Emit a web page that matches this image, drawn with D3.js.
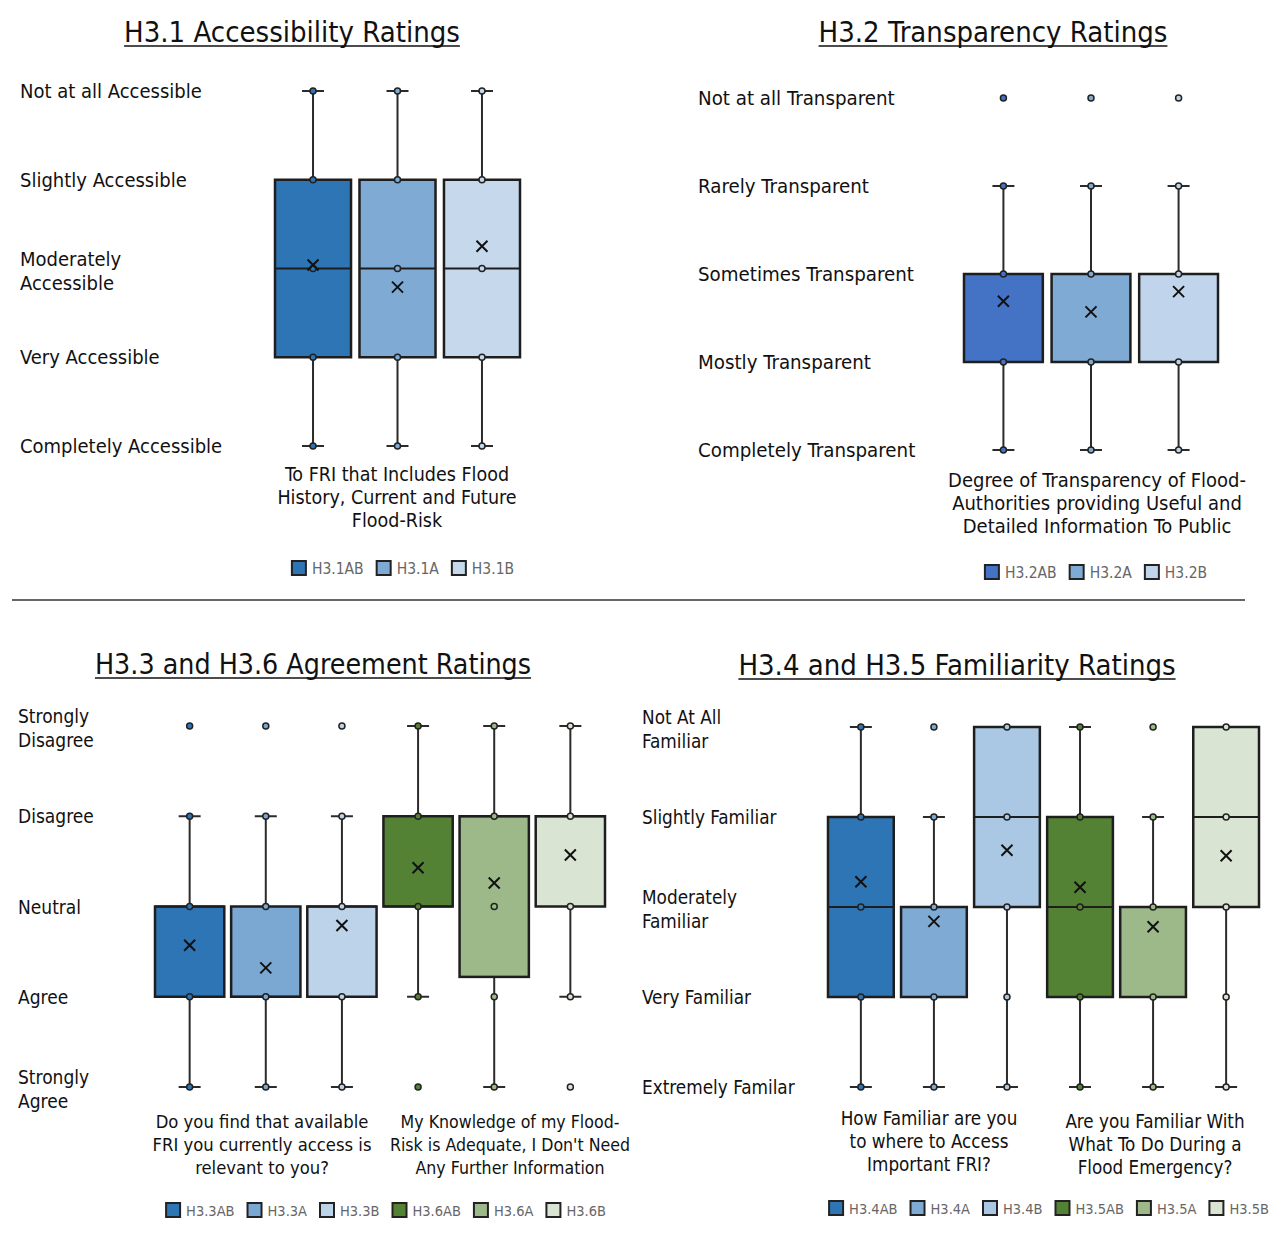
<!DOCTYPE html>
<html>
<head>
<meta charset="utf-8">
<script src="https://cdn.jsdelivr.net/npm/d3@7"></script>
<style>
  body { margin: 0; background: #fff; }
  svg text { font-family: "DejaVu Sans Condensed", "DejaVu Sans", sans-serif; }
</style>
</head>
<body>
<svg id="chart" width="1286" height="1233"></svg>
<script>
// rating levels are 1..5, 1 = top label

// H3.1
const h31Levels = ["Not at all Accessible", "Slightly Accessible", "Moderately|Accessible", "Very Accessible", "Completely Accessible"];
const h31Series = ["H3.1AB", "H3.1A", "H3.1B"];
const h31Min = [1, 1, 1];
const h31Q1 = [2, 2, 2];
const h31Median = [3, 3, 3];
const h31Q3 = [4, 4, 4];
const h31Max = [5, 5, 5];
const h31Mean = [2.96, 3.21, 2.75];
const h31Points = [[1, 2, 3, 4, 5], [1, 2, 3, 4, 5], [1, 2, 3, 4, 5]];
const h31XLabel = ["To FRI that Includes Flood", "History, Current and Future", "Flood-Risk"];

// H3.2
const h32Levels = ["Not at all Transparent", "Rarely Transparent", "Sometimes Transparent", "Mostly Transparent", "Completely Transparent"];
const h32Series = ["H3.2AB", "H3.2A", "H3.2B"];
const h32Min = [2, 2, 2];
const h32Q1 = [3, 3, 3];
const h32Median = [3, 3, 3];
const h32Q3 = [4, 4, 4];
const h32Max = [5, 5, 5];
const h32Mean = [3.31, 3.43, 3.2];
const h32Points = [[1, 2, 3, 4, 5], [1, 2, 3, 4, 5], [1, 2, 3, 4, 5]];
const h32XLabel = ["Degree of Transparency of Flood-", "Authorities providing Useful and", "Detailed Information To Public"];

// H3.3 + H3.6
const h33Levels = ["Strongly|Disagree", "Disagree", "Neutral", "Agree", "Strongly|Agree"];
const h33Series = ["H3.3AB", "H3.3A", "H3.3B", "H3.6AB", "H3.6A", "H3.6B"];
const h33Min = [2, 2, 2, 1, 1, 1];
const h33Q1 = [3, 3, 3, 2, 2, 2];
const h33Median = [3, 4, 3, 3, 2, 2];
const h33Q3 = [4, 4, 4, 3, 3.78, 3];
const h33Max = [5, 5, 5, 4, 5, 4];
const h33Mean = [3.43, 3.68, 3.21, 2.57, 2.74, 2.43];
const h33Points = [[1, 2, 3, 4, 5], [1, 2, 3, 4, 5], [1, 2, 3, 4, 5], [1, 2, 3, 4, 5], [1, 2, 3, 4, 5], [1, 2, 3, 4, 5]];
const h33XLabelA = ["Do you find that available", "FRI you currently access is", "relevant to you?"];
const h33XLabelB = ["My Knowledge of my Flood-", "Risk is Adequate, I Don't Need", "Any Further Information"];

// H3.4 + H3.5
const h34Levels = ["Not At All|Familiar", "Slightly Familiar", "Moderately|Familiar", "Very Familiar", "Extremely Familar"];
const h34Series = ["H3.4AB", "H3.4A", "H3.4B", "H3.5AB", "H3.5A", "H3.5B"];
const h34Min = [1, 2, 1, 1, 2, 1];
const h34Q1 = [2, 3, 1, 2, 3, 1];
const h34Median = [3, 3, 2, 3, 3, 2];
const h34Q3 = [4, 4, 3, 4, 4, 3];
const h34Max = [5, 5, 5, 5, 5, 5];
const h34Mean = [2.72, 3.16, 2.37, 2.78, 3.22, 2.43];
const h34Points = [[1, 2, 3, 4, 5], [1, 2, 3, 4, 5], [1, 2, 3, 4, 5], [1, 2, 3, 4, 5], [1, 2, 3, 4, 5], [1, 2, 3, 4, 5]];
const h34XLabelA = ["How Familiar are you", "to where to Access", "Important FRI?"];
const h34XLabelB = ["Are you Familiar With", "What To Do During a", "Flood Emergency?"];

const blues = ["#2e75b6", "#7faad4", "#c5d8ec"];
const blues2 = ["#4472c4", "#7faad4", "#c0d5ec"];
const mixed3 = ["#2e75b6", "#7ba7d3", "#bdd3ea", "#548235", "#9db98a", "#d9e4d2"];
const mixed4 = ["#2e75b6", "#7faad4", "#aac8e4", "#548235", "#9db98a", "#d9e4d2"];

const svg = d3.select("#chart");

function makeRows(series, mn, q1, med, q3, mx, mean, pts) {
  return series.map((s, i) => ({
    name: s, min: mn[i], q1: q1[i], median: med[i], q3: q3[i], max: mx[i], mean: mean[i], points: pts[i]
  }));
}

function drawPanel(p) {
  const g = svg.append("g");
  const y = d3.scaleLinear().domain([1, 5]).range([p.top, p.bottom]);
  const x = d3.scaleBand().domain(p.rows.map(d => d.name)).range([p.left, p.right]).paddingInner(p.pad);
  const color = d3.scaleOrdinal().domain(p.rows.map(d => d.name)).range(p.colors);
  const bw = x.bandwidth();

  // title, underlined
  const t = g.append("text")
    .attr("x", p.titleX).attr("y", p.titleY)
    .attr("text-anchor", "middle")
    .attr("font-size", p.titleSize).attr("fill", "#111")
    .text(p.title);
  const tw = t.node().getComputedTextLength();
  g.append("line")
    .attr("x1", p.titleX - tw / 2).attr("x2", p.titleX + tw / 2)
    .attr("y1", p.titleY + 4).attr("y2", p.titleY + 4)
    .attr("stroke", "#111").attr("stroke-width", 1.5);

  // category labels
  p.levels.forEach((lab, i) => {
    const lines = lab.split("|");
    const tx = g.append("text")
      .attr("x", p.labelX)
      .attr("y", y(i + 1) + 7 - (lines.length - 1) * 10)
      .attr("font-size", p.labelSize).attr("fill", "#111");
    lines.forEach((l, j) => tx.append("tspan").attr("x", p.labelX).attr("dy", j ? 24 : 0).text(l));
  });

  const box = g.selectAll(".box").data(p.rows).join("g").attr("class", "box")
    .attr("transform", d => `translate(${x(d.name) + bw / 2},0)`);

  // whiskers
  box.append("line")
    .attr("y1", d => y(d.min)).attr("y2", d => y(d.max))
    .attr("stroke", "#2b2b2b").attr("stroke-width", 2);
  box.filter(d => d.min < d.q1).append("line")
    .attr("x1", -11).attr("x2", 11)
    .attr("y1", d => y(d.min)).attr("y2", d => y(d.min))
    .attr("stroke", "#2b2b2b").attr("stroke-width", 2);
  box.filter(d => d.max > d.q3).append("line")
    .attr("x1", -11).attr("x2", 11)
    .attr("y1", d => y(d.max)).attr("y2", d => y(d.max))
    .attr("stroke", "#2b2b2b").attr("stroke-width", 2);

  // boxes
  box.append("rect")
    .attr("x", -bw / 2).attr("width", bw)
    .attr("y", d => y(d.q1)).attr("height", d => y(d.q3) - y(d.q1))
    .attr("fill", d => color(d.name))
    .attr("stroke", "#1e1e1e").attr("stroke-width", 2.5);
  box.append("line")
    .attr("x1", -bw / 2).attr("x2", bw / 2)
    .attr("y1", d => y(d.median)).attr("y2", d => y(d.median))
    .attr("stroke", "#1e1e1e").attr("stroke-width", 2);

  // points (inner + outliers)
  box.selectAll("circle").data(d => d.points.map(v => ({ v, name: d.name }))).join("circle")
    .attr("cy", d => y(d.v)).attr("r", 3)
    .attr("fill", d => color(d.name))
    .attr("stroke", "#222").attr("stroke-width", 1.5);

  // mean
  const m = 5.5;
  box.append("path")
    .attr("d", d => `M${-m},${y(d.mean) - m}L${m},${y(d.mean) + m}M${-m},${y(d.mean) + m}L${m},${y(d.mean) - m}`)
    .attr("stroke", "#111").attr("stroke-width", 2).attr("fill", "none");

  // x labels
  p.xLabels.forEach(xl => {
    const tx = g.append("text").attr("text-anchor", "middle")
      .attr("font-size", xl.size).attr("fill", "#111");
    xl.lines.forEach((l, j) => tx.append("tspan").attr("x", xl.x).attr("y", xl.y + j * 23).text(l));
  });

  // legend
  const lg = g.append("g");
  let cx = 0;
  p.rows.forEach(d => {
    const it = lg.append("g").attr("transform", `translate(${cx},0)`);
    it.append("rect").attr("x", 0).attr("y", -7).attr("width", 14).attr("height", 14)
      .attr("fill", color(d.name)).attr("stroke", "#222").attr("stroke-width", 2);
    const lt = it.append("text").attr("x", 20).attr("y", 6)
      .attr("font-size", p.legendSize).attr("fill", "#666").text(d.name);
    cx += 20 + lt.node().getComputedTextLength() + 13;
  });
  lg.attr("transform", `translate(${p.legendX - (cx - 13) / 2},${p.legendY})`);
}

drawPanel({
  title: "H3.1 Accessibility Ratings", titleX: 292, titleY: 42, titleSize: 29,
  levels: h31Levels, labelX: 20, labelSize: 20,
  rows: makeRows(h31Series, h31Min, h31Q1, h31Median, h31Q3, h31Max, h31Mean, h31Points),
  colors: blues, top: 91, bottom: 446, left: 275, right: 520, pad: 0.1,
  xLabels: [{ x: 397, y: 481, size: 19.5, lines: h31XLabel }],
  legendX: 403, legendY: 568, legendSize: 15.5
});

drawPanel({
  title: "H3.2 Transparency Ratings", titleX: 993, titleY: 42, titleSize: 29,
  levels: h32Levels, labelX: 698, labelSize: 20.3,
  rows: makeRows(h32Series, h32Min, h32Q1, h32Median, h32Q3, h32Max, h32Mean, h32Points),
  colors: blues2, top: 98, bottom: 450, left: 964, right: 1218, pad: 0.1,
  xLabels: [{ x: 1097, y: 487, size: 20, lines: h32XLabel }],
  legendX: 1096, legendY: 572, legendSize: 15.5
});

drawPanel({
  title: "H3.3 and H3.6 Agreement Ratings", titleX: 313, titleY: 674, titleSize: 28.3,
  levels: h33Levels, labelX: 18, labelSize: 19,
  rows: makeRows(h33Series, h33Min, h33Q1, h33Median, h33Q3, h33Max, h33Mean, h33Points),
  colors: mixed3, top: 726, bottom: 1087, left: 155, right: 605, pad: 0.09,
  xLabels: [{ x: 262, y: 1128, size: 18.3, lines: h33XLabelA }, { x: 510, y: 1128, size: 17.6, lines: h33XLabelB }],
  legendX: 386, legendY: 1210, legendSize: 14.5
});

drawPanel({
  title: "H3.4 and H3.5 Familiarity Ratings", titleX: 957, titleY: 675, titleSize: 29,
  levels: h34Levels, labelX: 642, labelSize: 18.8,
  rows: makeRows(h34Series, h34Min, h34Q1, h34Median, h34Q3, h34Max, h34Mean, h34Points),
  colors: mixed4, top: 727, bottom: 1087, left: 828, right: 1259, pad: 0.1,
  xLabels: [{ x: 929, y: 1125, size: 18.7, lines: h34XLabelA }, { x: 1155, y: 1128, size: 18.7, lines: h34XLabelB }],
  legendX: 1049, legendY: 1208, legendSize: 14.5
});

// divider between the two rows
svg.append("line").attr("x1", 12).attr("x2", 1245).attr("y1", 600).attr("y2", 600)
  .attr("stroke", "#333").attr("stroke-width", 1.5);
</script>
</body>
</html>
